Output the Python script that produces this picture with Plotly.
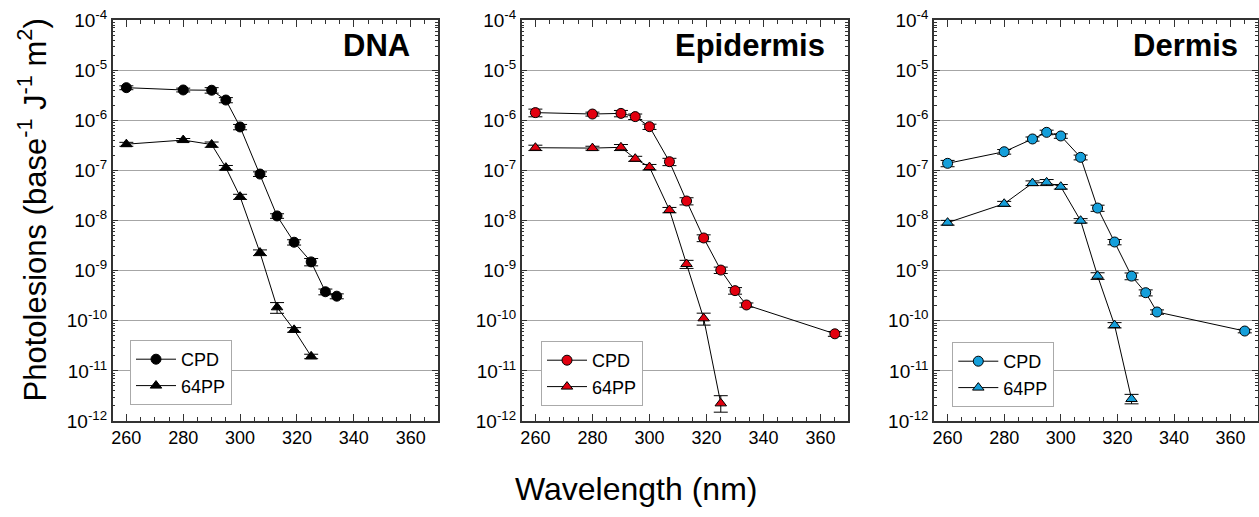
import plotly.graph_objects as go

# ---------------- data ----------------
wl_cpd = [260, 280, 290, 295, 300, 307, 313, 319, 325, 330, 334, 365]
wl_64 = [260, 280, 290, 295, 300, 307, 313, 319, 325]

dna_cpd = [4.5e-6, 4.05e-6, 4.0e-6, 2.55e-6, 7.4e-7, 8.5e-8, 1.24e-8, 3.7e-9, 1.5e-9, 3.8e-10, 3.1e-10]
dna_cpd_err = [0.4e-6, 0.35e-6, 0.5e-6, 0.3e-6, 0.9e-7, 0.9e-8, 1.3e-9, 0.45e-9, 0.25e-9, 0.5e-10, 0.35e-10]
dna_64 = [3.35e-7, 4.05e-7, 3.3e-7, 1.14e-7, 3.0e-8, 2.3e-9, 1.86e-10, 6.6e-11, 1.95e-11]
dna_64_err = [0.3e-7, 0.3e-7, 0.4e-7, 0.12e-7, 0.35e-8, 0.3e-9, 0.45e-10, 0.7e-11, 0.2e-11]

epi_cpd = [1.43e-6, 1.34e-6, 1.38e-6, 1.19e-6, 7.5e-7, 1.5e-7, 2.46e-8, 4.5e-9, 1.03e-9, 4.0e-10, 2.07e-10, 5.5e-11]
epi_cpd_err = [0.25e-6, 0.12e-6, 0.2e-6, 0.15e-6, 0.9e-7, 0.25e-7, 0.4e-8, 0.7e-9, 0.15e-9, 0.6e-10, 0.2e-10, 0.6e-11]
epi_64 = [2.85e-7, 2.8e-7, 2.9e-7, 1.72e-7, 1.17e-7, 1.63e-8, 1.36e-9, 1.12e-10, 2.25e-12]
epi_64_errp = [0.35e-7, 0.25e-7, 0.4e-7, 0.2e-7, 0.15e-7, 0.2e-8, 0.25e-9, 0.3e-10, 0.95e-12]
epi_64_errm = [0.35e-7, 0.25e-7, 0.4e-7, 0.2e-7, 0.15e-7, 0.2e-8, 0.25e-9, 0.3e-10, 0.75e-12]

der_cpd = [1.39e-7, 2.37e-7, 4.26e-7, 5.78e-7, 4.89e-7, 1.83e-7, 1.78e-8, 3.74e-9, 7.8e-10, 3.64e-10, 1.5e-10, 6.25e-11]
der_cpd_err = [0.2e-7, 0.25e-7, 0.4e-7, 0.6e-7, 0.5e-7, 0.2e-7, 0.25e-8, 0.45e-9, 0.12e-9, 0.5e-10, 0.15e-10, 0.5e-11]
der_64 = [9.1e-9, 2.17e-8, 5.6e-8, 5.8e-8, 4.75e-8, 9.95e-9, 7.9e-10, 8.2e-11, 2.75e-12]
der_64_errp = [1.0e-9, 2.5e-9, 6e-9, 8e-9, 5e-9, 1e-9, 1.2e-10, 1.0e-11, 0.65e-12]
der_64_errm = [1.0e-9, 2.5e-9, 6e-9, 8e-9, 5e-9, 1e-9, 1.2e-10, 1.0e-11, 0.55e-12]

panel_titles = ["DNA", "Epidermis", "Dermis"]
series_names = ["CPD", "64PP"]
y_exps = [-12, -11, -10, -9, -8, -7, -6, -5, -4]

# ---------------- styling ----------------
FONT = "Liberation Sans, Arial, Helvetica, sans-serif"
colors = ["black", "#E2000F", "#159FDA"]
W, H = 1259, 517


def px(x):
    return x / W


def py(y):
    return 1 - y / H


x_domains = [[px(112.7), px(437.7)], [px(521.7), px(847.7)], [px(934), px(1257.5)]]
y_domain = [py(421), py(20.2)]
AX = "#333333"

panels = [
    (dna_cpd, dna_cpd_err, dna_cpd_err, dna_64, dna_64_err, dna_64_err, wl_cpd[:11]),
    (epi_cpd, epi_cpd_err, epi_cpd_err, epi_64, epi_64_errp, epi_64_errm, wl_cpd),
    (der_cpd, der_cpd_err, der_cpd_err, der_64, der_64_errp, der_64_errm, wl_cpd),
]

fig = go.Figure()
for i, (cv, cep, cem, pv, pep, pem, cwl) in enumerate(panels):
    sfx = "" if i == 0 else str(i + 1)
    leg = "legend" if i == 0 else "legend" + str(i + 1)
    fig.add_trace(go.Scatter(
        x=cwl, y=cv, mode="lines+markers", name=series_names[0],
        xaxis="x" + sfx, yaxis="y" + sfx, legend=leg,
        line=dict(color="black", width=1),
        marker=dict(symbol="circle", size=10, color=colors[i], line=dict(color="black", width=1)),
        error_y=dict(type="data", array=cep, arrayminus=cem, symmetric=False,
                     color="black", thickness=1, width=7),
    ))
    fig.add_trace(go.Scatter(
        x=wl_64, y=pv, mode="lines+markers", name=series_names[1],
        xaxis="x" + sfx, yaxis="y" + sfx, legend=leg,
        line=dict(color="black", width=1),
        marker=dict(symbol="triangle-up", size=10, color=colors[i], line=dict(color="black", width=1)),
        error_y=dict(type="data", array=pep, arrayminus=pem, symmetric=False,
                     color="black", thickness=1, width=7),
    ))

layout = dict(
    width=W, height=H,
    margin=dict(l=0, r=0, t=0, b=0),
    paper_bgcolor="white", plot_bgcolor="white",
    font=dict(family=FONT, color="black"),
    showlegend=True,
)
leg_pos = [(px(130), py(340)), (px(541), py(341)), (px(952.3), py(342))]
for i in range(3):
    sfx = "" if i == 0 else str(i + 1)
    layout["xaxis" + sfx] = dict(
        domain=x_domains[i], anchor="y" + sfx, range=[255.2, 369.5],
        tick0=260, dtick=20,
        ticks="inside", ticklen=7, tickwidth=1, tickcolor=AX,
        minor=dict(dtick=5, tick0=255, ticks="inside", ticklen=4, tickcolor=AX, showgrid=False),
        showline=True, linecolor=AX, linewidth=1.5, mirror="ticks",
        showgrid=False, zeroline=False, automargin=False, ticklabeloverflow="allow",
        tickfont=dict(size=18, family=FONT, color="black"),
    )
    layout["yaxis" + sfx] = dict(
        domain=y_domain, anchor="x" + sfx, type="log", range=[-12, -4],
        tickmode="array", tickvals=[10.0 ** e for e in y_exps],
        ticktext=["10<sup>%d</sup>" % e for e in y_exps],
        ticks="inside", ticklen=6, tickwidth=1, tickcolor=AX,
        minor=dict(dtick="D1", ticks="inside", ticklen=3, tickcolor=AX, showgrid=False),
        showline=True, linecolor=AX, linewidth=1.5, mirror="ticks",
        showgrid=True, gridcolor="#a6a6a6", gridwidth=1, zeroline=False, automargin=False,
        ticklabeloverflow="allow",
        tickfont=dict(size=19, family=FONT, color="black"),
    )
    lname = "legend" if i == 0 else "legend" + str(i + 1)
    layout[lname] = dict(
        x=leg_pos[i][0], y=leg_pos[i][1], xanchor="left", yanchor="top",
        bgcolor="white", bordercolor="#aaaaaa", borderwidth=1,
        font=dict(size=18, family=FONT, color="black"),
        tracegroupgap=0, itemwidth=40,
    )

fig.update_layout(**layout)

title_right = [411.7, 826.7, 1240]
for i, t in enumerate(panel_titles):
    fig.add_annotation(
        x=px(title_right[i]), y=py(46), xref="paper", yref="paper",
        xanchor="right", yanchor="middle", text="<b>%s</b>" % t, showarrow=False,
        font=dict(size=31, family=FONT, color="black"),
    )

fig.add_annotation(
    x=px(33), y=py(210.5), xref="paper", yref="paper", textangle=-90,
    xanchor="center", yanchor="middle", showarrow=False,
    text="Photolesions (base<sup>-1</sup> J<sup>-1</sup> m<sup>2</sup>)",
    font=dict(size=31, family=FONT, color="black"),
)
fig.add_annotation(
    x=px(635.8), y=py(489), xref="paper", yref="paper",
    xanchor="center", yanchor="middle", showarrow=False,
    text="Wavelength (nm)", font=dict(size=32, family=FONT, color="black"),
)

# remove the default page margin so the figure fills the 1259x517 window exactly
fig.write_html(
    "out.html",
    config={"displayModeBar": False},
    post_script="document.body.style.margin='0';document.body.style.overflow='hidden';",
)
